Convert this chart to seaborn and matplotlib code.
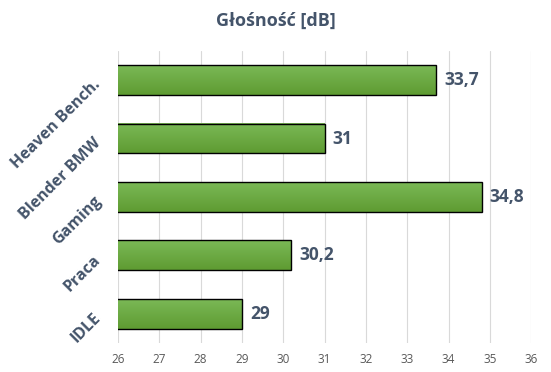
import numpy as np
import pandas as pd
import matplotlib
matplotlib.use("Agg")
import matplotlib.pyplot as plt
import matplotlib.transforms as mtransforms
import seaborn as sns
from matplotlib.colors import LinearSegmentedColormap

categories = ["Heaven Bench.", "Blender BMW", "Gaming", "Praca", "IDLE"]
values = [33.7, 31.0, 34.8, 30.2, 29.0]
value_labels = ["33,7", "31", "34,8", "30,2", "29"]
x_ticks = [26, 27, 28, 29, 30, 31, 32, 33, 34, 35, 36]
title = "Głośność [dB]"

sns.set_theme(style="white")
plt.rcParams['font.family'] = ['Open Sans', 'DejaVu Sans']

text_col = "#44546A"
df = pd.DataFrame({"cat": categories, "val": values})

fig = plt.figure(figsize=(5.51, 3.72), dpi=100)
ax = fig.add_axes([0.214, 0.078, 0.75, 0.785])

sns.barplot(data=df, y="cat", x="val", orient="h", order=categories,
            color="#6CAB44", width=0.51, edgecolor="black", linewidth=1.0, ax=ax)

ax.set_xlim(26, 36)
ax.set_xticks(x_ticks)
ax.set_xticklabels([str(t) for t in x_ticks], fontsize=8.5, color="#595959")
ax.tick_params(axis="x", length=0, pad=7)
ax.set_xlabel("")
ax.set_ylabel("")
ax.grid(axis="x", color="#D9D9D9", linewidth=0.8)
ax.set_axisbelow(True)
for s in ax.spines.values():
    s.set_visible(False)

ax.set_yticks(range(len(categories)))
ax.set_yticklabels(categories, rotation=45, ha="right", va="center",
                   rotation_mode="anchor", fontsize=11.5, fontweight="bold", color=text_col)
ax.tick_params(axis="y", length=0, pad=14)
offset = mtransforms.ScaledTranslation(0, -2 / 100, fig.dpi_scale_trans)
for lbl in ax.get_yticklabels():
    lbl.set_transform(lbl.get_transform() + offset)

# gradient fill for bars
cmap = LinearSegmentedColormap.from_list("g", ["#5E9B32", "#7BB956"])
grad = np.linspace(0, 1, 64).reshape(-1, 1)
for p in ax.patches:
    x0, y0 = max(p.get_x(), 26), p.get_y()
    w, h = p.get_x() + p.get_width() - x0, p.get_height()
    ax.imshow(grad, cmap=cmap, aspect="auto",
              extent=[x0, x0 + w, y0 + h, y0], origin="lower", zorder=p.get_zorder())
    p.set_facecolor("none")
    p.set_zorder(p.get_zorder() + 0.1)
ax.set_xlim(26, 36)
ax.set_ylim(len(categories) - 0.5, -0.5)

for i, (v, lab) in enumerate(zip(values, value_labels)):
    ax.text(v + 0.2, i, lab, va="center", ha="left", fontsize=12.5,
            fontweight="bold", color=text_col)

fig.text(0.5, 0.945, title, ha="center", va="center", fontsize=13,
         fontweight="bold", color=text_col)

fig.savefig("out.png", dpi=100)
